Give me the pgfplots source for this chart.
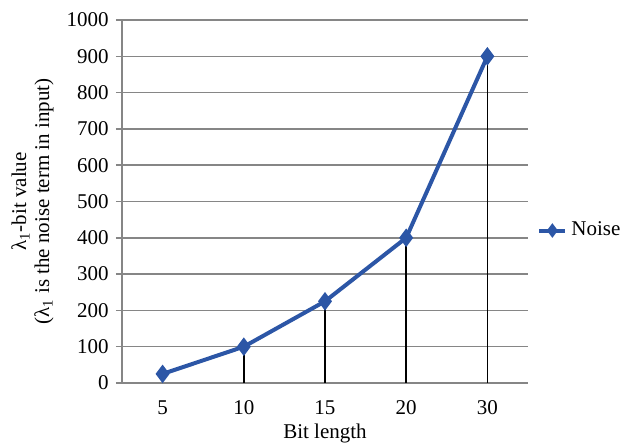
\documentclass[border=0pt]{standalone}
\usepackage{fontspec}
\setmainfont{Liberation Serif}
\usepackage{pgfplots}
\pgfplotsset{compat=1.18}
\definecolor{noiseblue}{RGB}{44,86,166}
\definecolor{gridgray}{RGB}{134,134,134}
\newcommand{\chartfont}{\rmfamily\fontsize{10.5}{12.5}\selectfont}
\begin{document}
\chartfont
\begin{tikzpicture}[font=\chartfont]
\useasboundingbox (-61pt,-30pt) rectangle (250pt,191.5pt);
\begin{axis}[
  at={(0,0)}, anchor=south west,
  scale only axis,
  width=203pt, height=181.5pt,
  xmin=-0.5, xmax=4.5,
  ymin=0, ymax=1000,
  xtick={0,1,2,3,4},
  xticklabels={5,10,15,20,30},
  ytick={0,100,...,1000},
  axis lines=left,
  axis line style={-, gridgray, line width=0.75pt},
  ymajorgrids,
  major grid style={gridgray, line width=0.75pt},
  x tick style={draw=none},
  y tick style={gridgray, line width=0.75pt},
  tick align=outside,
  major tick length=3pt,
  ticklabel style={font=\chartfont},
  /pgf/number format/assume math mode=true,
  /pgf/number format/1000 sep={},
  xticklabel style={yshift=-2pt},
  xlabel={Bit length},
  xlabel style={at={(axis description cs:0.5,0)}, anchor=north, yshift=-17pt,
    font=\chartfont},
  ylabel={λ\textsubscript{1}-bit value\\(λ\textsubscript{1} is the noise term in input)},
  ylabel style={at={(axis description cs:-0.150,0.5)}, anchor=south,
    align=center, font=\rmfamily\fontsize{10.5}{11.5}\selectfont},
  legend style={draw=none, fill=none, at={(axis description cs:1,0.42)},
    anchor=west, xshift=4.5pt, inner sep=0pt, font=\chartfont},
  legend cell align=left,
  legend image code/.code={%
    \draw[mark repeat=2, mark phase=2, mark size=2pt]
      plot coordinates {(0pt,0pt) (6.5pt,0pt) (13pt,0pt)};},
  clip=false,
]
% drop lines from each point to the axis
\addplot[ycomb, black, line width=0.8pt, no marks, forget plot]
  coordinates {(0,25) (1,100) (2,225) (3,400) (4,900)};
% noise series
\addplot[noiseblue, line width=2pt, mark=diamond*, mark size=3pt,
  mark options={solid, fill=noiseblue}]
  coordinates {(0,25) (1,100) (2,225) (3,400) (4,900)};
\addlegendentry{Noise}
\end{axis}
\end{tikzpicture}
\end{document}
